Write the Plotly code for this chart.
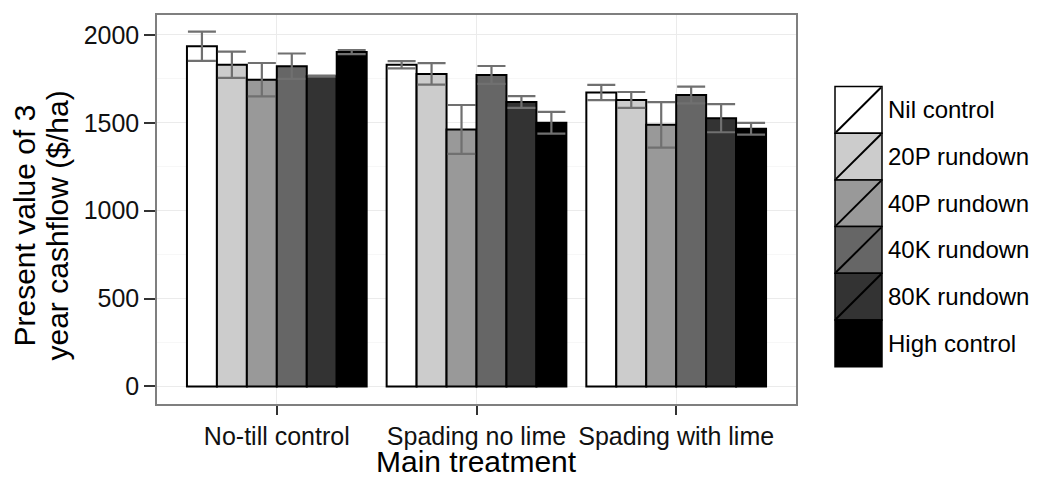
import plotly.graph_objects as go

categories = ["No-till control", "Spading no lime", "Spading with lime"]
series_names = ["Nil control", "20P rundown", "40P rundown", "40K rundown", "80K rundown", "High control"]
series_colors = ["#ffffff", "#cccccc", "#999999", "#666666", "#333333", "#000000"]

nil_control = [1935, 1830, 1672]
p20_rundown = [1830, 1778, 1630]
p40_rundown = [1745, 1462, 1488]
k40_rundown = [1822, 1772, 1658]
k80_rundown = [1765, 1618, 1526]
high_control = [1902, 1500, 1466]

nil_err = [83, 21, 43]
p20_err = [75, 61, 45]
p40_err = [95, 139, 129]
k40_err = [72, 51, 48]
k80_err = [3, 33, 80]
high_err = [12, 62, 33]

values = [nil_control, p20_rundown, p40_rundown, k40_rundown, k80_rundown, high_control]
errors = [nil_err, p20_err, p40_err, k40_err, k80_err, high_err]

y_ticks = [0, 500, 1000, 1500, 2000]
y_title_lines = ["Present value of 3", "year cashflow ($/ha)"]
x_title = "Main treatment"

FONT = "Liberation Sans, Arial, sans-serif"
W, H = 1037, 477
OFF = 8  # page offset of the plot div
L, R, T, B = 157 - OFF, 796 - OFF, 15 - OFF, 404 - OFF

fig = go.Figure()
for name, col, vals, errs in zip(series_names, series_colors, values, errors):
    fig.add_trace(go.Bar(
        x=categories, y=vals, name=name,
        marker=dict(color=col, line=dict(color="#000000", width=2)),
        error_y=dict(type="data", array=errs, visible=True, color="#707070", thickness=2.2, width=14),
        showlegend=False,
    ))

fig.update_layout(
    width=W, height=H,
    margin=dict(l=L, r=W - R, t=T, b=H - B, autoexpand=False),
    paper_bgcolor="white", plot_bgcolor="white",
    barmode="group", bargap=0.1, bargroupgap=0,
    font=dict(family=FONT, color="#000000"),
)
fig.update_xaxes(
    range=[-0.6, 2.6], showgrid=True, gridcolor="#ebebeb", gridwidth=1,
    showline=True, mirror=True, linecolor="#7f7f7f", linewidth=1.5,
    ticks="outside", ticklen=9, tickwidth=2, tickcolor="#333333",
    tickfont=dict(size=25, color="#111111", family=FONT),
)
fig.update_yaxes(
    range=[-100, 2113], tickvals=y_ticks, ticktext=[str(v) for v in y_ticks],
    showgrid=True, gridcolor="#ebebeb", gridwidth=1,
    minor=dict(dtick=250, tick0=0, showgrid=True, gridcolor="#f7f7f7", gridwidth=1),
    zeroline=False,
    showline=True, mirror=True, linecolor="#7f7f7f", linewidth=1.5,
    ticks="outside", ticklen=11, tickwidth=2, tickcolor="#333333",
    tickfont=dict(size=25, color="#111111", family=FONT),
)

def px_x(p):
    return (p - OFF - L) / (R - L)

def px_y(p):
    return (B - (p - OFF)) / (B - T)

annotations = []
# axis titles
for cx, line in zip([24.5, 57.5], y_title_lines):
    annotations.append(dict(xref="paper", yref="paper", x=px_x(cx), y=px_y(226), text=line,
                            textangle=-90, showarrow=False, xanchor="center", yanchor="middle",
                            font=dict(size=30, family=FONT, color="#000000")))
annotations.append(dict(xref="paper", yref="paper", x=px_x(476), y=px_y(462), text=x_title,
                        showarrow=False, xanchor="center", yanchor="middle",
                        font=dict(size=30, family=FONT, color="#000000")))

# custom legend (ggplot-style keys with diagonal slash)
key_left, key_right = 835, 882
row_top, row_h = 86.5, 46.7
shapes = []
for i, (name, col) in enumerate(zip(series_names, series_colors)):
    y0 = row_top + i * row_h
    y1 = y0 + row_h
    shapes.append(dict(type="rect", xref="paper", yref="paper",
                       x0=px_x(key_left), x1=px_x(key_right), y0=px_y(y1), y1=px_y(y0),
                       fillcolor=col, line=dict(color="#000000", width=1.5)))
    shapes.append(dict(type="line", xref="paper", yref="paper",
                       x0=px_x(key_left + 1), x1=px_x(key_right - 1), y0=px_y(y1 - 1), y1=px_y(y0 + 1),
                       line=dict(color="#000000", width=2)))
    annotations.append(dict(xref="paper", yref="paper", x=px_x(886), y=px_y((y0 + y1) / 2),
                            text=name, showarrow=False, xanchor="left", yanchor="middle",
                            font=dict(size=24, family=FONT, color="#000000")))
fig.update_layout(shapes=shapes, annotations=annotations)

fig.write_html("out.html")
